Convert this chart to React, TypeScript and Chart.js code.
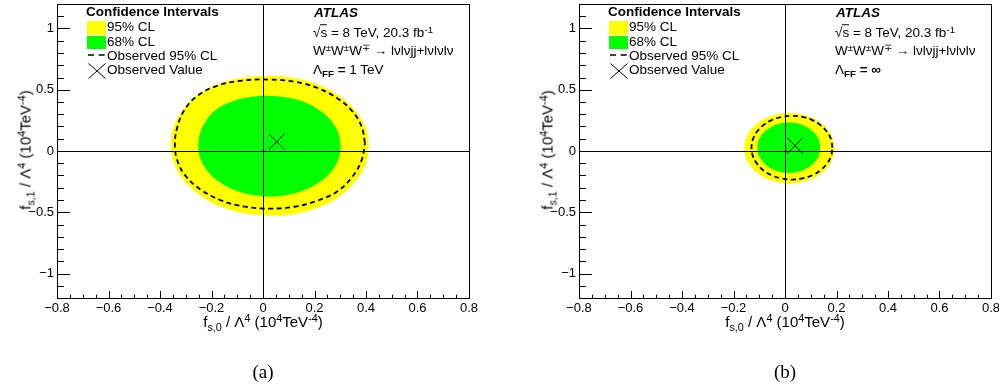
import React, { useEffect, useRef } from "react";
import { Chart, registerables } from "chart.js";

Chart.register(...registerables);

// ---------- data ----------
const X_MAJOR = [-0.8, -0.6, -0.4, -0.2, 0, 0.2, 0.4, 0.6, 0.8];
const X_LABELS = ["\u22120.8", "\u22120.6", "\u22120.4", "\u22120.2", "0", "0.2", "0.4", "0.6", "0.8"];
const X_MINOR = [
  -0.75, -0.7, -0.65, -0.55, -0.5, -0.45, -0.35, -0.3, -0.25, -0.15, -0.1, -0.05,
  0.05, 0.1, 0.15, 0.25, 0.3, 0.35, 0.45, 0.5, 0.55, 0.65, 0.7, 0.75,
];
const Y_MAJOR = [-1, -0.5, 0, 0.5, 1];
const Y_LABELS = ["\u22121", "\u22120.5", "0", "0.5", "1"];
const Y_MINOR = [
  -1.1, -0.9, -0.8, -0.7, -0.6, -0.4, -0.3, -0.2, -0.1,
  0.1, 0.2, 0.3, 0.4, 0.6, 0.7, 0.8, 0.9, 1.1,
];

// Panel (a): Lambda_FF = 1 TeV
const CL95_A: [number, number][] = [
  [0.412, 0.042], [0.399, 0.19], [0.36, 0.327], [0.299, 0.445], [0.22, 0.536], [0.127, 0.593],
  [0.027, 0.612], [-0.073, 0.6], [-0.166, 0.552], [-0.25, 0.465], [-0.31, 0.34], [-0.347, 0.195],
  [-0.358, 0.042], [-0.345, -0.106], [-0.306, -0.243], [-0.245, -0.361], [-0.166, -0.452], [-0.073, -0.509],
  [0.027, -0.528], [0.127, -0.512], [0.22, -0.458], [0.299, -0.368], [0.36, -0.245], [0.399, -0.106],
];
const CL68_A: [number, number][] = [
  [0.302, 0.039], [0.293, 0.145], [0.265, 0.245], [0.221, 0.33], [0.164, 0.395], [0.097, 0.436],
  [0.026, 0.45], [-0.048, 0.44], [-0.122, 0.402], [-0.18, 0.34], [-0.22, 0.25], [-0.244, 0.147],
  [-0.251, 0.039], [-0.242, -0.067], [-0.214, -0.167], [-0.17, -0.252], [-0.113, -0.317], [-0.046, -0.358],
  [0.026, -0.372], [0.097, -0.358], [0.164, -0.317], [0.221, -0.252], [0.265, -0.167], [0.293, -0.067],
];
const OBS95_A: [number, number][] = [
  [0.396, 0.065], [0.383, 0.199], [0.347, 0.324], [0.288, 0.431], [0.212, 0.514], [0.123, 0.565],
  [0.027, 0.583], [-0.08, 0.575], [-0.175, 0.535], [-0.255, 0.45], [-0.305, 0.335], [-0.332, 0.2],
  [-0.342, 0.06], [-0.333, -0.075], [-0.3, -0.205], [-0.24, -0.318], [-0.16, -0.405], [-0.069, -0.455],
  [0.027, -0.47], [0.123, -0.455], [0.212, -0.405], [0.288, -0.33], [0.347, -0.21], [0.383, -0.075],
];
const BEST_A: [number, number] = [0.053, 0.076];

// Panel (b): Lambda_FF = infinity
const CL95_B: [number, number][] = [
  [0.192, 0.022], [0.186, 0.097], [0.169, 0.166], [0.141, 0.226], [0.105, 0.271], [0.062, 0.3],
  [0.017, 0.31], [-0.028, 0.3], [-0.071, 0.271], [-0.107, 0.226], [-0.135, 0.166], [-0.152, 0.097],
  [-0.158, 0.022], [-0.152, -0.053], [-0.135, -0.122], [-0.107, -0.182], [-0.071, -0.227], [-0.028, -0.256],
  [0.017, -0.266], [0.062, -0.256], [0.105, -0.227], [0.141, -0.182], [0.169, -0.122], [0.186, -0.053],
];
const CL68_B: [number, number][] = [
  [0.137, 0.027], [0.133, 0.08], [0.121, 0.13], [0.101, 0.173], [0.076, 0.205], [0.047, 0.226],
  [0.015, 0.233], [-0.017, 0.226], [-0.046, 0.205], [-0.071, 0.173], [-0.091, 0.13], [-0.103, 0.08],
  [-0.107, 0.027], [-0.103, -0.026], [-0.091, -0.076], [-0.071, -0.119], [-0.046, -0.151], [-0.017, -0.172],
  [0.015, -0.179], [0.047, -0.172], [0.076, -0.151], [0.101, -0.119], [0.121, -0.076], [0.133, -0.026],
];
const OBS95_B: [number, number][] = [
  [0.184, 0.027], [0.179, 0.094], [0.163, 0.157], [0.138, 0.211], [0.106, 0.252], [0.068, 0.278],
  [0.027, 0.287], [-0.014, 0.278], [-0.052, 0.252], [-0.084, 0.211], [-0.109, 0.157], [-0.125, 0.094],
  [-0.13, 0.027], [-0.125, -0.04], [-0.109, -0.103], [-0.084, -0.157], [-0.052, -0.198], [-0.014, -0.224],
  [0.027, -0.233], [0.068, -0.224], [0.106, -0.198], [0.138, -0.157], [0.163, -0.103], [0.179, -0.04],
];
const BEST_B: [number, number] = [0.039, 0.043];

// ---------- styling / layout ----------
const SANS = "'Liberation Sans', Arial, Helvetica, sans-serif";
const SERIF = "'Liberation Serif', 'Times New Roman', serif";
const YELLOW = "#ffff00";
const GREEN = "#00ff00";
const CANVAS_W = 499;
const CANVAS_H = 388;
const AREA_LEFT = 57;
const AREA_RIGHT = 469;
const AREA_TOP = 4;
const AREA_BOTTOM = 298;

const closed = (pts: [number, number][]) =>
  [...pts, pts[0]].map(([x, y]) => ({ x, y }));

const zeroPad = (s: any) => {
  s.paddingTop = 0;
  s.paddingBottom = 0;
  s.paddingLeft = 0;
  s.paddingRight = 0;
};

const rootAxesPlugin = {
  id: "rootAxes",
  afterDatasetsDraw(chart: any) {
    const { ctx, chartArea: a, scales } = chart;
    const x0 = Math.round(scales.x.getPixelForValue(0)) + 0.5;
    const y0 = Math.round(scales.y.getPixelForValue(0)) + 0.5;
    ctx.save();
    ctx.strokeStyle = "#000";
    ctx.lineWidth = 1;
    ctx.beginPath();
    ctx.moveTo(x0, a.top);
    ctx.lineTo(x0, a.bottom);
    ctx.moveTo(a.left, y0);
    ctx.lineTo(a.right, y0);
    ctx.stroke();
    ctx.restore();
  },
  afterDraw(chart: any) {
    const { ctx, chartArea: a, scales } = chart;
    ctx.save();
    ctx.strokeStyle = "#000";
    ctx.lineWidth = 1;
    const L = Math.round(a.left) + 0.5;
    const R = Math.round(a.right) + 0.5;
    const T = Math.round(a.top) + 0.5;
    const B = Math.round(a.bottom) + 0.5;
    ctx.strokeRect(L, T, R - L, B - T);
    ctx.beginPath();
    const xt = (v: number, len: number) => {
      const p = Math.round(scales.x.getPixelForValue(v)) + 0.5;
      ctx.moveTo(p, B);
      ctx.lineTo(p, B - len);
    };
    const yt = (v: number, len: number) => {
      const p = Math.round(scales.y.getPixelForValue(v)) + 0.5;
      ctx.moveTo(L, p);
      ctx.lineTo(L + len, p);
    };
    X_MAJOR.forEach((v) => xt(v, 7.5));
    X_MINOR.forEach((v) => xt(v, 3.8));
    Y_MAJOR.forEach((v) => yt(v, 12.5));
    Y_MINOR.forEach((v) => yt(v, 6.5));
    ctx.stroke();
    ctx.restore();
  },
};

function ContourChart(props: {
  cl95: [number, number][];
  cl68: [number, number][];
  obs: [number, number][];
  best: [number, number];
}) {
  const ref = useRef<HTMLCanvasElement | null>(null);
  useEffect(() => {
    if (!ref.current) return;
    const chart = new Chart(ref.current, {
      type: "scatter",
      data: {
        datasets: [
          {
            data: [{ x: props.best[0], y: props.best[1] }],
            pointStyle: "crossRot",
            pointRadius: 11,
            borderColor: "#000",
            backgroundColor: "#000",
            borderWidth: 1,
            showLine: false,
            order: 1,
          } as any,
          {
            data: closed(props.obs),
            showLine: true,
            fill: false,
            borderColor: "#000",
            borderWidth: 1.8,
            borderDash: [5, 3.5],
            pointRadius: 0,
            tension: 0.4,
            order: 2,
          },
          {
            data: closed(props.cl68),
            showLine: true,
            fill: "shape",
            backgroundColor: GREEN,
            borderColor: GREEN,
            borderWidth: 0,
            pointRadius: 0,
            tension: 0.4,
            order: 3,
          },
          {
            data: closed(props.cl95),
            showLine: true,
            fill: "shape",
            backgroundColor: YELLOW,
            borderColor: YELLOW,
            borderWidth: 0,
            pointRadius: 0,
            tension: 0.4,
            order: 4,
          },
        ],
      },
      options: {
        animation: false,
        responsive: false,
        devicePixelRatio: 1,
        events: [],
        layout: {
          autoPadding: false,
          padding: { left: 0, right: CANVAS_W - AREA_RIGHT, top: AREA_TOP, bottom: 0 },
        },
        plugins: {
          legend: { display: false },
          tooltip: { enabled: false },
          title: { display: false },
        },
        scales: {
          x: {
            type: "linear",
            min: -0.8,
            max: 0.8,
            grid: { display: false, drawTicks: false },
            border: { display: false },
            ticks: {
              autoSkip: false,
              maxRotation: 0,
              padding: 3,
              color: "#000",
              font: { family: SANS, size: 13 },
              callback: (_v: any, i: number) => X_LABELS[i],
            },
            afterBuildTicks: (s: any) => {
              s.ticks = X_MAJOR.map((v) => ({ value: v }));
            },
            afterFit: (s: any) => {
              s.height = CANVAS_H - AREA_BOTTOM;
              zeroPad(s);
            },
          },
          y: {
            type: "linear",
            min: -1.2,
            max: 1.2,
            grid: { display: false, drawTicks: false },
            border: { display: false },
            ticks: {
              autoSkip: false,
              padding: 3,
              color: "#000",
              font: { family: SANS, size: 13 },
              callback: (_v: any, i: number) => Y_LABELS[i],
            },
            afterBuildTicks: (s: any) => {
              s.ticks = Y_MAJOR.map((v) => ({ value: v }));
            },
            afterFit: (s: any) => {
              s.width = AREA_LEFT;
              zeroPad(s);
            },
          },
        },
      } as any,
      plugins: [rootAxesPlugin as any],
    });
    return () => chart.destroy();
  }, []);
  return (
    <canvas
      ref={ref}
      width={CANVAS_W}
      height={CANVAS_H}
      style={{ position: "absolute", left: 0, top: 0, width: CANVAS_W, height: CANVAS_H }}
    />
  );
}

const Sub = (p: { children: React.ReactNode; bold?: boolean }) => (
  <span style={{ position: "relative", top: "0.35em", fontSize: "0.72em", fontWeight: p.bold ? "bold" : undefined }}>
    {p.children}
  </span>
);
const Sup = (p: { children: React.ReactNode }) => (
  <span style={{ position: "relative", top: "-0.42em", fontSize: "0.72em" }}>{p.children}</span>
);

function Txt(p: {
  x: number;
  y: number;
  children: React.ReactNode;
  center?: boolean;
  style?: React.CSSProperties;
}) {
  return (
    <div
      style={{
        position: "absolute",
        left: p.x,
        top: p.y,
        transform: p.center ? "translate(-50%, -50%)" : "translateY(-50%)",
        whiteSpace: "nowrap",
        lineHeight: 1,
        fontFamily: SANS,
        fontSize: 13.5,
        color: "#000",
        ...p.style,
      }}
    >
      {p.children}
    </div>
  );
}

const AxisTitle = (p: { idx: string }) => (
  <>
    f<Sub>{"s," + p.idx}</Sub> / Λ<Sup>4</Sup> (10<Sup>4</Sup>TeV<Sup>-4</Sup>)
  </>
);

function Panel(props: {
  left: number;
  cl95: [number, number][];
  cl68: [number, number][];
  obs: [number, number][];
  best: [number, number];
  lambda: React.ReactNode;
  tag: string;
}) {
  return (
    <div style={{ position: "absolute", left: props.left, top: 0, width: CANVAS_W, height: CANVAS_H }}>
      <ContourChart cl95={props.cl95} cl68={props.cl68} obs={props.obs} best={props.best} />

      {/* legend */}
      <Txt x={86} y={12.3} style={{ fontWeight: "bold" }}>Confidence Intervals</Txt>
      <div style={{ position: "absolute", left: 87, top: 21, width: 19, height: 13.5, background: YELLOW }} />
      <div style={{ position: "absolute", left: 87, top: 35.5, width: 19, height: 13.5, background: GREEN }} />
      <svg style={{ position: "absolute", left: 87, top: 52 }} width={20} height={6}>
        <line x1={1} y1={3} x2={19} y2={3} stroke="#000" strokeWidth={1.6} strokeDasharray="6 4.7" />
      </svg>
      <svg style={{ position: "absolute", left: 88, top: 63 }} width={18} height={16}>
        <line x1={0.5} y1={0.5} x2={17.5} y2={15.5} stroke="#000" strokeWidth={1} />
        <line x1={17.5} y1={0.5} x2={0.5} y2={15.5} stroke="#000" strokeWidth={1} />
      </svg>
      <Txt x={107} y={27.3}>95% CL</Txt>
      <Txt x={107} y={41.5}>68% CL</Txt>
      <Txt x={107} y={55.5}>Observed 95% CL</Txt>
      <Txt x={107} y={70}>Observed Value</Txt>

      {/* ATLAS label */}
      <Txt x={314} y={13.3} style={{ fontWeight: "bold", fontStyle: "italic" }}>ATLAS</Txt>
      <Txt x={313} y={32.8}>
        {"\u221A"}
        <span style={{ borderTop: "1px solid #000" }}>s</span> = 8 TeV, 20.3 fb<Sup>-1</Sup>
      </Txt>
      <Txt x={313} y={50.8}>
        W<Sup>±</Sup>W<Sup>±</Sup>W<Sup>{"\u2213"}</Sup> {"\u2192"} lνlνjj+lνlνlν
      </Txt>
      <Txt x={313} y={69.5}>
        Λ<Sub bold>FF</Sub> <b>=</b> {props.lambda}
      </Txt>

      {/* axis titles */}
      <Txt x={263} y={321} center style={{ fontSize: 15 }}>
        <AxisTitle idx="0" />
      </Txt>
      <div style={{ position: "absolute", left: 25, top: 150, width: 0, height: 0 }}>
        <div
          style={{
            position: "absolute",
            left: 0,
            top: 0,
            transform: "translate(-50%, -50%) rotate(-90deg)",
            whiteSpace: "nowrap",
            lineHeight: 1,
            fontFamily: SANS,
            fontSize: 15,
            color: "#000",
          }}
        >
          <AxisTitle idx="1" />
        </div>
      </div>

      {/* sub-figure tag */}
      <Txt x={263} y={371} center style={{ fontFamily: SERIF, fontSize: 19 }}>
        {props.tag}
      </Txt>
    </div>
  );
}

export default function App() {
  return (
    <div
      style={{
        position: "absolute",
        left: 0,
        top: 0,
        width: 999,
        height: 388,
        overflow: "hidden",
        background: "#fff",
      }}
    >
      <Panel left={0} cl95={CL95_A} cl68={CL68_A} obs={OBS95_A} best={BEST_A} lambda={<span>1 TeV</span>} tag="(a)" />
      <Panel left={522} cl95={CL95_B} cl68={CL68_B} obs={OBS95_B} best={BEST_B} lambda={<b>∞</b>} tag="(b)" />
    </div>
  );
}
